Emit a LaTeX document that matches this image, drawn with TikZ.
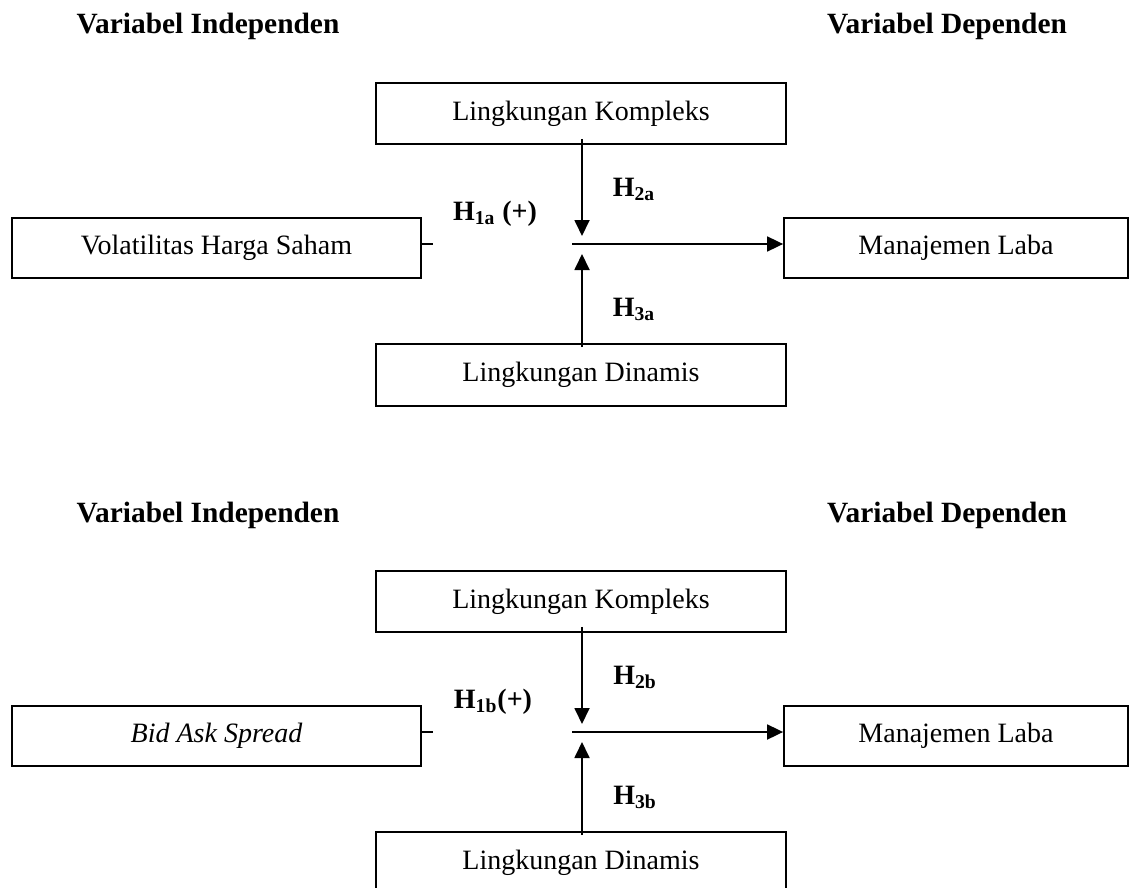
\documentclass[tikz,border=0pt]{standalone}
\usepackage{fontspec}
\setmainfont{Liberation Serif}
\usetikzlibrary{arrows.meta}
\begin{document}
\begin{tikzpicture}[x=0.5pt,y=-0.5pt,
  font=\fontsize{14}{16}\selectfont,
  box/.style={draw,line width=0.9pt,inner sep=0pt,anchor=center},
  conn/.style={line width=0.9pt},
  arr/.style={line width=0.9pt,-{Triangle[length=8pt,width=7.5pt]}},
  head/.style={font=\fontsize{14.7}{16}\selectfont\bfseries,anchor=base},
  hlab/.style={font=\fontsize{14}{16}\selectfont\bfseries,anchor=base}]
\useasboundingbox (0,0) rectangle (1129,888);
\clip (0,0) rectangle (1129,888);
% ---------- top diagram ----------
\node[head] (indA) at (208,34) {Variabel Independen};
\node[head] (depA) at (947,34) {Variabel Dependen};
\node[box,minimum width=205pt,minimum height=30.5pt] (kompA) at (581,113.5) {Lingkungan Kompleks};
\node[box,minimum width=204.5pt,minimum height=30pt] (volA) at (216.5,248) {Volatilitas Harga Saham};
\node[box,minimum width=172pt,minimum height=30pt] (manA) at (956,248) {Manajemen Laba};
\node[box,minimum width=205pt,minimum height=31pt] (dinA) at (581,375) {Lingkungan Dinamis};
\coordinate (tickA) at (433,244);
\coordinate (jA) at (572,244);
\coordinate (dnA) at (582,236);
\coordinate (upA) at (582,254);
\draw[conn] (volA.east |- tickA) -- (tickA);
\draw[arr] (jA) -- (manA.west |- jA);
\draw[arr] (kompA.south -| dnA) ++(0,-6) -- (dnA);
\draw[arr] (dinA.north -| upA) ++(0,4) -- (upA);
\node[hlab] (h1A) at (495,220) {H\textsubscript{1a} (+)};
\node[hlab] (h2A) at (634,196) {H\textsubscript{2a}};
\node[hlab] (h3A) at (634,316) {H\textsubscript{3a}};
% ---------- bottom diagram ----------
\node[head] (indB) at (208,522) {Variabel Independen};
\node[head] (depB) at (947,522) {Variabel Dependen};
\node[box,minimum width=205pt,minimum height=30.5pt] (kompB) at (581,601.5) {Lingkungan Kompleks};
\node[box,minimum width=204.5pt,minimum height=30pt] (volB) at (216.5,736) {\itshape Bid Ask Spread};
\node[box,minimum width=172pt,minimum height=30pt] (manB) at (956,736) {Manajemen Laba};
\node[box,minimum width=205pt,minimum height=31pt] (dinB) at (581,863) {Lingkungan Dinamis};
\coordinate (tickB) at (433,732);
\coordinate (jB) at (572,732);
\coordinate (dnB) at (582,724);
\coordinate (upB) at (582,742);
\draw[conn] (volB.east |- tickB) -- (tickB);
\draw[arr] (jB) -- (manB.west |- jB);
\draw[arr] (kompB.south -| dnB) ++(0,-6) -- (dnB);
\draw[arr] (dinB.north -| upB) ++(0,4) -- (upB);
\node[hlab] (h1B) at (493,708) {H\textsubscript{1b}(+)};
\node[hlab] (h2B) at (635,684) {H\textsubscript{2b}};
\node[hlab] (h3B) at (635,804) {H\textsubscript{3b}};
\end{tikzpicture}
\end{document}
